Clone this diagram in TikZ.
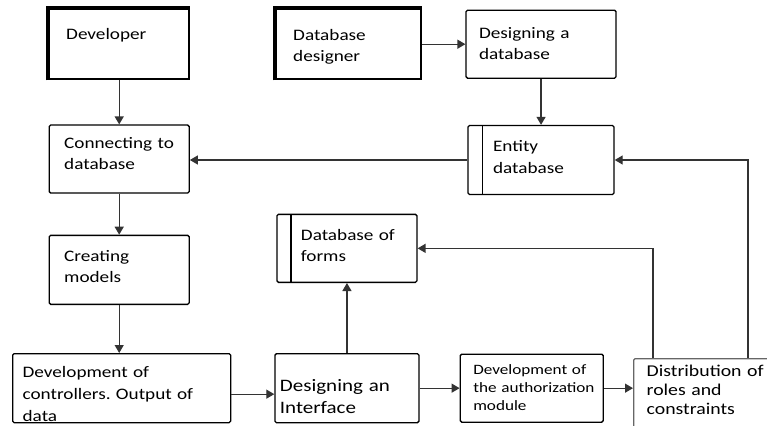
\documentclass[tikz,border=0pt]{standalone}
\usepackage{fontspec}
\setmainfont{Carlito}[FakeStretch=1.2]
\usetikzlibrary{positioning,arrows.meta}
\hyphenpenalty=10000
\tikzset{
  box/.style={draw, line width=1.3pt, rounded corners=1.5pt, inner sep=0pt,
              align=left, font=\fontsize{16}{21.5}\selectfont},
  dims/.style n args={4}{minimum width=#1pt, text width=#2pt, text height=#3pt, text depth=#4pt},
  actor/.style={box, line width=2.4pt, rounded corners=0pt},
  store/.style={box, path picture={\draw[line width=1.1pt]
      ([xshift=14pt]path picture bounding box.north west) --
      ([xshift=14pt]path picture bounding box.south west);}},
  edge/.style={-{Triangle[length=8pt,width=9pt]}, line width=1.3pt, black!80}
}
\begin{document}
\begin{tikzpicture}[x=1pt, y=-1pt, node distance=43pt]
  \clip (0,0) rectangle (767,425);
  % who works on it
  \node[actor, dims={140}{106}{30}{40}, anchor=north west] (dev) at (48,8) {Developer};
  \node[actor, dims={145}{111}{31}{39}, anchor=north west] (desg) at (275,8) {Database\\designer};
  \draw[line width=4.5pt] (dev.south west) |- (dev.north east);
  \draw[line width=4.5pt] (desg.south west) |- (desg.north east);
  % database side
  \node[box, dims={150}{124}{28}{40}, right=43pt of desg] (dsgdb) {Designing~a\\database};
  \node[store, dims={146}{96}{26}{43}, below=46pt of dsgdb] (ent) {Entity\\database};
  % application side
  \node[box, dims={140}{110}{23}{45}, below=44pt of dev] (conn) {Connecting~to\\database};
  \node[box, dims={140}{110}{26}{43}, below=41pt of conn] (model) {Creating\\models};
  \node[box, dims={218}{198}{24}{45}, anchor=north west, font=\fontsize{16}{22}\selectfont]
    (ctrl) at (12,353) {Development~of\\controllers.~Output~of\\data};
  \node[box, dims={144}{134}{38}{31}, right=43pt of ctrl, font=\fontsize{17.5}{22}\selectfont]
    (iface) {Designing~an\\Interface};
  \node[box, dims={143}{117}{20}{48}, right=40pt of iface, font=\fontsize{14.3}{18}\selectfont]
    (auth) {Development~of\\the~authorization\\module};
  \node[box, draw=black!60, dims={150}{124}{18}{57}, anchor=north west, font=\fontsize{16.5}{19}\selectfont]
    (dist) at (633,358) {Distribution~of\\roles~and\\constraints};
  \node[store, dims={140}{92}{26}{42}, above=70pt of iface] (forms) {Database~of\\forms};

  \draw[edge] (dev) -- (conn);
  \draw[edge] (desg) -- (dsgdb);
  \draw[edge] (dsgdb) -- (ent);
  \draw[edge] (ent) -- (ent -| conn.east);
  \draw[edge] (conn) -- (model);
  \draw[edge] (model) -- (model |- ctrl.north);
  \draw[edge] ([yshift=-6pt]ctrl.east) -- ([yshift=-6pt]ctrl.east -| iface.west);
  \draw[edge] (iface) -- (forms);
  \draw[edge] (iface) -- (auth);
  \draw[edge] (auth) -- (auth -| dist.west);
  \draw[edge] ([xshift=20pt]dist.north west) |- (forms);
  \draw[edge] ([xshift=115pt]dist.north west) |- (ent);
\end{tikzpicture}
\end{document}
